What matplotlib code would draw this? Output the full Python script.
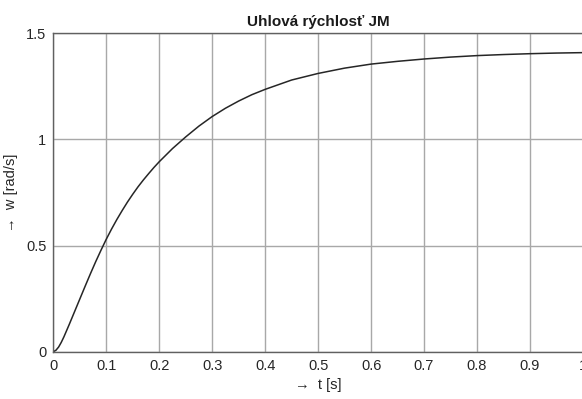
import matplotlib
matplotlib.use('Agg')
import matplotlib.pyplot as plt

plt.rcParams['font.family'] = ['Liberation Sans', 'DejaVu Sans']

# values
t = [0, 0.005, 0.01, 0.015, 0.02, 0.03, 0.04, 0.05, 0.06, 0.07, 0.08, 0.09, 0.10,
     0.11, 0.12, 0.13, 0.14, 0.15, 0.16, 0.17, 0.18, 0.19, 0.20, 0.225, 0.25,
     0.275, 0.30, 0.325, 0.35, 0.375, 0.40, 0.45, 0.50,
     0.55, 0.60, 0.65, 0.70, 0.75, 0.80, 0.85, 0.90, 0.95, 1.00]
w = [0, 0.007, 0.022, 0.044, 0.07, 0.128, 0.188, 0.248, 0.308, 0.367, 0.424, 0.478, 0.53,
     0.578, 0.623, 0.665, 0.705, 0.742, 0.777, 0.809, 0.839, 0.868, 0.895, 0.957, 1.012,
     1.063, 1.108, 1.147, 1.181, 1.211, 1.236, 1.28, 1.311,
     1.336, 1.355, 1.368, 1.379, 1.388, 1.395, 1.40, 1.404, 1.407, 1.409]

xticks = [0, 0.1, 0.2, 0.3, 0.4, 0.5, 0.6, 0.7, 0.8, 0.9, 1]
xticklabels = ['0', '0.1', '0.2', '0.3', '0.4', '0.5', '0.6', '0.7', '0.8', '0.9', '1']
yticks = [0, 0.5, 1, 1.5]
yticklabels = ['0', '0.5', '1', '1.5']

fig = plt.figure(figsize=(5.82, 3.99), dpi=100)
ax = fig.add_axes([0.0916, 0.1185, 0.910, 0.798])

ax.plot(t, w, color='#262626', linewidth=1.1)

ax.set_xlim(0, 1)
ax.set_ylim(0, 1.5)
ax.set_xticks(xticks)
ax.set_xticklabels(xticklabels)
ax.set_yticks(yticks)
ax.set_yticklabels(yticklabels)
ax.tick_params(direction='in', length=0, labelsize=10.5, colors='#262626', pad=5)

ax.grid(True, color='#a8a8a8', linewidth=1.0)
ax.set_axisbelow(True)
for s in ax.spines.values():
    s.set_color('#606060')
    s.set_linewidth(1.0)

ax.set_title('Uhlová rýchlosť JM', fontsize=11, fontweight='bold', pad=5, color='#1a1a1a')
ax.set_xlabel('→  t [s]', fontsize=10.5, color='#262626', labelpad=4)
ax.set_ylabel('→  w [rad/s]', fontsize=10.5, color='#262626', labelpad=6)

fig.savefig('out.png', dpi=100)
